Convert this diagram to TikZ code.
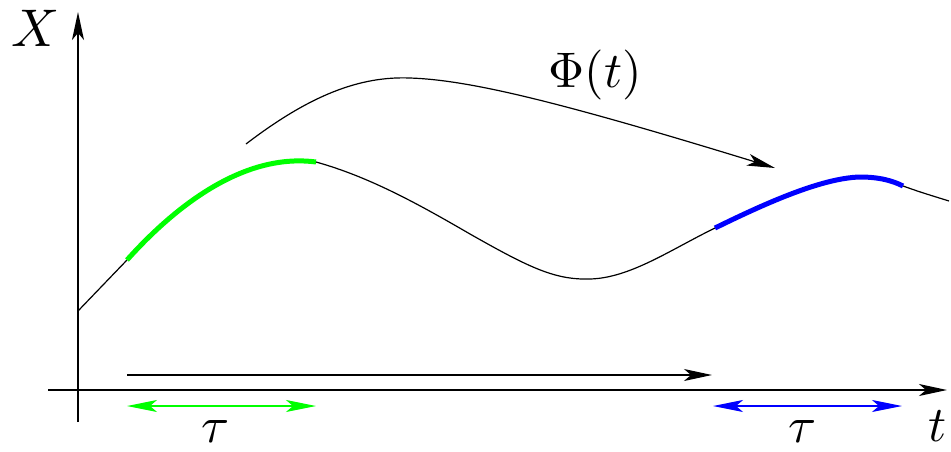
\documentclass[tikz,border=0pt]{standalone}
\usepackage{graphicx}
\usetikzlibrary{arrows.meta}
\newcommand{\bigtxt}[2][5]{\scalebox{#1}{#2}}
\begin{document}
\begin{tikzpicture}[x=1pt,y=-1pt,
  lbl/.style={inner sep=0pt},
  axis/.style={line width=1.5pt,-{Stealth[length=28pt,width=12pt,inset=7pt]}},
  thin/.style={line width=1.2pt},
  thick/.style={line width=5pt}]
\useasboundingbox (0,0) rectangle (951,451);
% axes
\coordinate (yb) at (78,422);
\coordinate (yt) at (78,12);
\coordinate (xl) at (48,390);
\coordinate (xr) at (947,390);
\draw[axis] (yb) -- (yt);
\draw[axis] (xl) -- (xr);
% main curve
\coordinate (c0) at (78,311);
\coordinate (g0) at (127,260);
\coordinate (g1) at (316,162);
\coordinate (m1) at (470,234);
\coordinate (m2) at (590,279);
\coordinate (b0) at (715,228);
\coordinate (b1) at (860,177);
\coordinate (b2) at (903,186);
\coordinate (e0) at (949,201);
\draw[thin] (c0) -- (g0);
\draw[thick,green,line cap=butt] (g0) .. controls (170,212) and (240,152) .. (g1);
\draw[thin] (g1) .. controls (370,177) and (420,205) .. (m1)
  .. controls (530,268) and (555,280) .. (m2)
  .. controls (630,278) and (670,250) .. (b0);
\draw[thick,blue,line cap=butt] (b0) .. controls (760,206) and (820,178) .. (b1)
  .. controls (880,177) and (893,181) .. (b2);
\draw[thin] (b2) .. controls (920,192) .. (e0);
% Phi curve
\coordinate (p0) at (246,144);
\coordinate (p1) at (410,78);
\coordinate (p2) at (775,168);
\draw[thin,-{Stealth[length=28pt,width=12pt,inset=7pt]}] (p0) .. controls (310,95) and (360,76) .. (p1)
  .. controls (470,80) and (560,102) .. (p2);
% long time arrow
\coordinate (h0) at (127,375);
\coordinate (h1) at (712,375);
\draw[thin,-{Stealth[length=28pt,width=12pt,inset=7pt]}] (h0) -- (h1);
% tau arrows
\coordinate (ga) at (127,406);
\coordinate (gb) at (316,406);
\draw[thin,green,{Stealth[length=30pt,width=12pt,inset=7pt]}-{Stealth[length=30pt,width=12pt,inset=7pt]}] (ga) -- (gb);
\coordinate (ba) at (713,406);
\coordinate (bb) at (902,406);
\draw[thin,blue,{Stealth[length=30pt,width=12pt,inset=7pt]}-{Stealth[length=30pt,width=12pt,inset=7pt]}] (ba) -- (bb);
% labels
\node[lbl] (X) at (36,28) {\bigtxt[5.3]{$X$}};
\node[lbl] (phi) at (595,75) {\bigtxt{$\Phi(t)$}};
\node[lbl] (tau1) at (216,432) {\bigtxt[5.1]{$\tau$}};
\node[lbl] (tau2) at (803,432) {\bigtxt[5.1]{$\tau$}};
\node[lbl] (t) at (938,426) {\bigtxt{$t$}};
\end{tikzpicture}
\end{document}
